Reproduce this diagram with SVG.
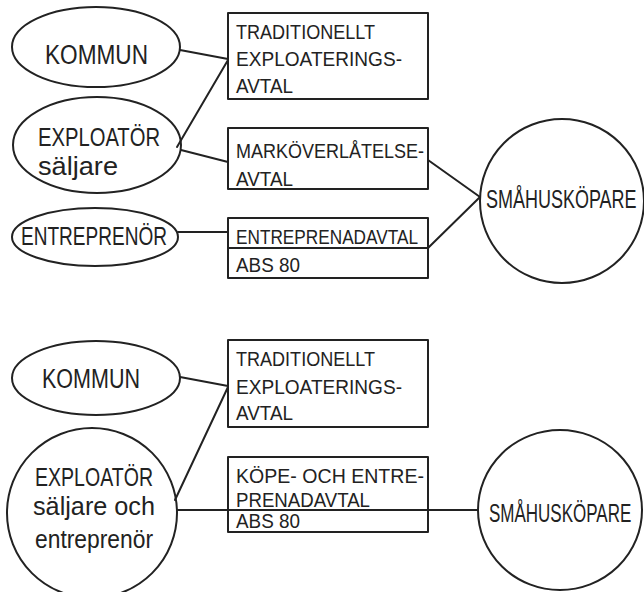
<svg xmlns="http://www.w3.org/2000/svg" width="644" height="592" viewBox="0 0 644 592">
<style>
.s{fill:none;stroke:#222;stroke-width:2;stroke-linejoin:round;stroke-linecap:round}
.t{font-family:"Liberation Sans","DejaVu Sans",sans-serif;fill:#222}
.b{font-size:20px}
.n{font-size:27px}
.m{font-size:25px}
</style>
<rect width="644" height="592" fill="#fff"/>
<g id="connectors" class="s">
<path d="M180,50 L228,59"/>
<path d="M177,147 L228,60"/>
<path d="M181,150 L228,162"/>
<path d="M178,232 L228,232"/>
<path d="M428,160 L480,197"/>
<path d="M428,248 L480,197"/>
<path d="M180,377 L228,386"/>
<path d="M175,500 L228,387"/>
<path d="M177,510 L228,510"/>
<path d="M428,510 L478,510"/>
</g>
<g id="kommun1"><ellipse class="s" cx="96" cy="47" rx="84" ry="40"/><text class="t n" x="45" y="64" textLength="103" lengthAdjust="spacingAndGlyphs">KOMMUN</text></g>
<g id="exploator1"><ellipse class="s" cx="97" cy="145" rx="84" ry="48"/><text class="t m" x="38" y="146" textLength="122" lengthAdjust="spacingAndGlyphs">EXPLOATÖR</text><text class="t m" x="38" y="175" textLength="80" lengthAdjust="spacingAndGlyphs">säljare</text></g>
<g id="entreprenor1"><ellipse class="s" cx="95" cy="237" rx="83" ry="29"/><text class="t m" x="21" y="245" textLength="146" lengthAdjust="spacingAndGlyphs">ENTREPRENÖR</text></g>
<g id="box-trad1"><rect class="s" x="228" y="13" width="200" height="86"/><text class="t b" x="236" y="39" textLength="139" lengthAdjust="spacingAndGlyphs">TRADITIONELLT</text><text class="t b" x="236" y="66" textLength="166" lengthAdjust="spacingAndGlyphs">EXPLOATERINGS-</text><text class="t b" x="236" y="93" textLength="57" lengthAdjust="spacingAndGlyphs">AVTAL</text></g>
<g id="box-mark"><rect class="s" x="228" y="128" width="200" height="61"/><text class="t b" x="236" y="158" textLength="188" lengthAdjust="spacingAndGlyphs">MARKÖVERLÅTELSE-</text><text class="t b" x="236" y="186" textLength="57" lengthAdjust="spacingAndGlyphs">AVTAL</text></g>
<g id="box-entr"><rect class="s" x="228" y="218" width="200" height="60"/><path class="s" d="M228,248 L428,248"/><text class="t b" x="236" y="244" textLength="182" lengthAdjust="spacingAndGlyphs">ENTREPRENADAVTAL</text><text class="t b" x="236" y="272" textLength="64" lengthAdjust="spacingAndGlyphs">ABS 80</text></g>
<g id="smahus1"><circle class="s" cx="562" cy="201" r="82"/><text class="t" font-size="18" transform="translate(486,208) scale(1,1.45)">SMÅHUSKÖPARE</text></g>
<g id="kommun2"><ellipse class="s" cx="96" cy="378" rx="84" ry="37"/><text class="t n" x="42" y="388" textLength="98" lengthAdjust="spacingAndGlyphs">KOMMUN</text></g>
<g id="exploator2"><circle class="s" cx="92" cy="513" r="85"/><text class="t m" x="35" y="486" textLength="118" lengthAdjust="spacingAndGlyphs">EXPLOATÖR</text><text class="t m" x="33" y="515" textLength="122" lengthAdjust="spacingAndGlyphs">säljare och</text><text class="t m" x="35" y="548" textLength="118" lengthAdjust="spacingAndGlyphs">entreprenör</text></g>
<g id="box-trad2"><rect class="s" x="228" y="340" width="200" height="87"/><text class="t b" x="236" y="366" textLength="139" lengthAdjust="spacingAndGlyphs">TRADITIONELLT</text><text class="t b" x="236" y="394" textLength="166" lengthAdjust="spacingAndGlyphs">EXPLOATERINGS-</text><text class="t b" x="236" y="420" textLength="57" lengthAdjust="spacingAndGlyphs">AVTAL</text></g>
<g id="box-kope"><rect class="s" x="228" y="457" width="200" height="75"/><path class="s" d="M228,510 L428,510"/><text class="t b" x="236" y="483" textLength="188" lengthAdjust="spacingAndGlyphs">KÖPE- OCH ENTRE-</text><text class="t b" x="236" y="507" textLength="134" lengthAdjust="spacingAndGlyphs">PRENADAVTAL</text><text class="t b" x="236" y="528" textLength="64" lengthAdjust="spacingAndGlyphs">ABS 80</text></g>
<g id="smahus2"><ellipse class="s" cx="560" cy="510" rx="82" ry="80"/><text class="t" font-size="17" transform="translate(489,522) scale(1,1.5)">SMÅHUSKÖPARE</text></g>
</svg>
